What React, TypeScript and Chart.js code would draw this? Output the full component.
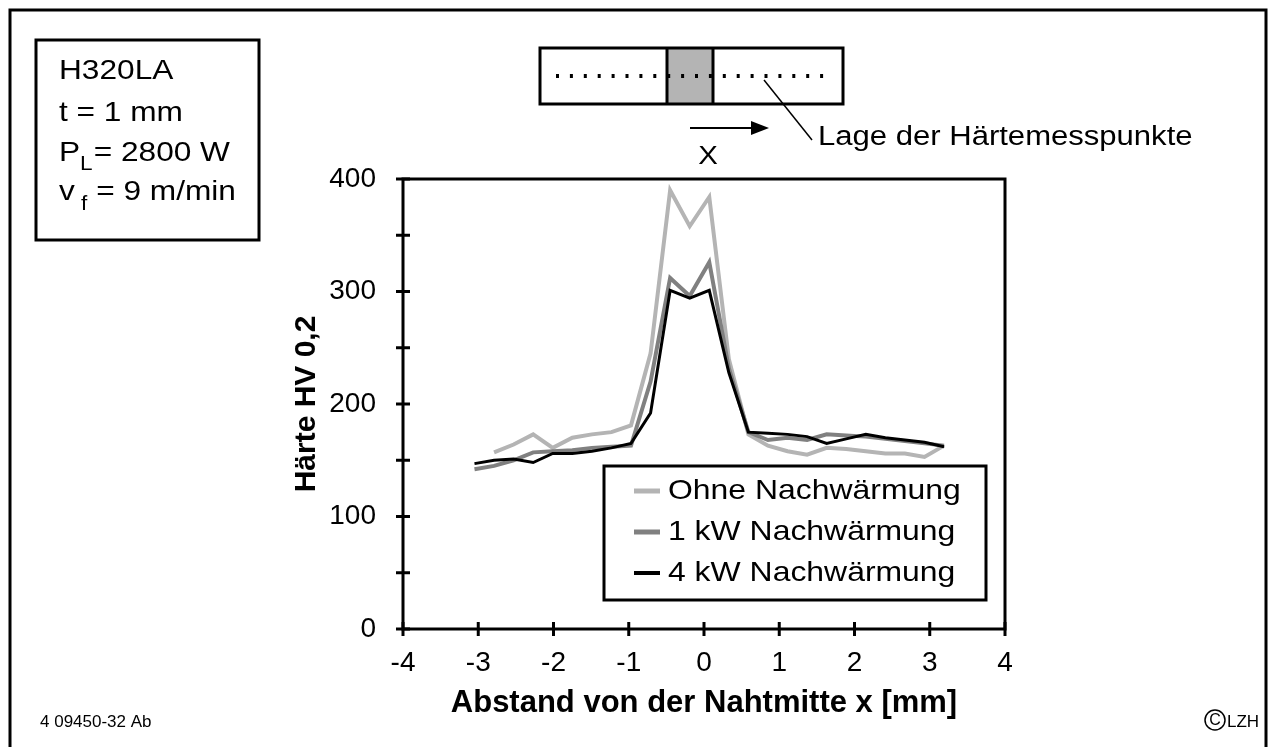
import React, { useEffect, useRef } from 'react';
import { Chart, registerables } from 'chart.js';

Chart.register(...registerables);
Chart.defaults.font.family = "'Liberation Sans', Arial, sans-serif";

// Measurement positions (mm from weld centre)
const xPositions = [
  -3.05, -2.79, -2.53, -2.27, -2.01, -1.75, -1.49, -1.23, -0.97, -0.71, -0.45, -0.19, 0.07,
  0.33, 0.59, 0.85, 1.11, 1.37, 1.63, 1.89, 2.15, 2.41, 2.67, 2.93, 3.19,
];

// Hardness HV 0,2
const ohneNachwaermung = [
  null, 157, 164, 173, 161, 170, 173, 175, 181, 245, 390, 358, 384,
  240, 173, 163, 158, 155, 161, 160, 158, 156, 156, 153, 163,
];
const kw1Nachwaermung = [
  142, 145, 150, 157, 158, 159, 161, 162, 163, 220, 312, 296, 326,
  232, 175, 168, 170, 168, 173, 172, 171, 169, 167, 165, 163,
];
const kw4Nachwaermung = [
  147, 150, 151, 148, 156, 156, 158, 161, 165, 192, 301, 294, 301,
  228, 175, 174, 173, 171, 165, 169, 173, 170, 168, 166, 162,
];

const seriesLabels = ['Ohne Nachwärmung', '1 kW Nachwärmung', '4 kW Nachwärmung'];
const seriesColors = ['#b4b4b4', '#808080', '#000000'];
const seriesWidths = [4, 4, 3];

const xAxisTitle = 'Abstand von der Nahtmitte x [mm]';
const yAxisTitle = 'Härte HV 0,2';
const schematicLabel = 'Lage der Härtemesspunkte';
const figureId = '4 09450-32 Ab';
const copyrightLabel = 'LZH';

const SX = 1.13; // horizontal stretch of the reference lettering

function toPoints(ys: (number | null)[]) {
  const pts: { x: number; y: number }[] = [];
  ys.forEach((y, i) => {
    if (y !== null) pts.push({ x: xPositions[i], y });
  });
  return pts;
}

function text(
  ctx: CanvasRenderingContext2D,
  s: string,
  x: number,
  y: number,
  font: string,
  align: CanvasTextAlign = 'left',
  baseline: CanvasTextBaseline = 'alphabetic',
  sx = SX
) {
  ctx.save();
  ctx.translate(x, y);
  ctx.scale(sx, 1);
  ctx.font = font;
  ctx.textAlign = align;
  ctx.textBaseline = baseline;
  ctx.fillStyle = '#000';
  ctx.fillText(s, 0, 0);
  const w = ctx.measureText(s).width * sx;
  ctx.restore();
  return w;
}

function line(ctx: CanvasRenderingContext2D, x1: number, y1: number, x2: number, y2: number) {
  ctx.beginPath();
  ctx.moveTo(x1, y1);
  ctx.lineTo(x2, y2);
  ctx.stroke();
}

const FONT = "'Liberation Sans', Arial, sans-serif";

const decorPlugin = {
  id: 'decor',
  afterDraw(chart: any) {
    const { ctx, chartArea: ca, scales } = chart;
    ctx.save();
    ctx.strokeStyle = '#000';
    ctx.fillStyle = '#000';
    ctx.lineWidth = 3;
    ctx.lineCap = 'butt';

    // plot frame
    ctx.strokeRect(ca.left, ca.top, ca.right - ca.left, ca.bottom - ca.top);

    // crossing tick marks
    ctx.lineWidth = 3;
    scales.y.ticks.forEach((t: any) => {
      const py = scales.y.getPixelForValue(t.value);
      line(ctx, ca.left - 7, py, ca.left + 7, py);
    });
    scales.x.ticks.forEach((t: any) => {
      const px = scales.x.getPixelForValue(t.value);
      line(ctx, px, ca.bottom - 7, px, ca.bottom + 7);
    });

    // legend
    const lg = { l: 604, t: 466, r: 986, b: 600 };
    ctx.lineWidth = 3;
    ctx.strokeRect(lg.l, lg.t, lg.r - lg.l, lg.b - lg.t);
    const rowY = [491, 532, 573];
    seriesLabels.forEach((lab, i) => {
      ctx.strokeStyle = seriesColors[i];
      ctx.lineWidth = seriesWidths[i] + 1;
      line(ctx, 634, rowY[i], 660, rowY[i]);
      text(ctx, lab, 668, rowY[i], `28px ${FONT}`, 'left', 'middle', 1.14);
    });
    ctx.strokeStyle = '#000';

    // info box
    ctx.lineWidth = 3;
    ctx.strokeRect(36, 40, 223, 200);
    const f28 = `28px ${FONT}`;
    const f20 = `20px ${FONT}`;
    text(ctx, 'H320LA', 59, 79, f28);
    text(ctx, 't = 1 mm', 59, 121, f28);
    let w = text(ctx, 'P', 59, 161, f28);
    const w2 = text(ctx, 'L', 59 + w, 170, f20);
    text(ctx, '= 2800 W', 59 + w + w2 + 1, 161, f28);
    w = text(ctx, 'v', 59, 200, f28);
    const w3 = text(ctx, ' f', 59 + w, 210, f20);
    text(ctx, ' = 9 m/min', 59 + w + w3, 200, f28);

    // schematic of the weld
    ctx.fillStyle = '#b4b4b4';
    ctx.fillRect(667, 48, 46, 56);
    ctx.lineWidth = 3;
    ctx.strokeRect(540, 48, 303, 56);
    line(ctx, 667, 48, 667, 104);
    line(ctx, 713, 48, 713, 104);
    ctx.fillStyle = '#000';
    for (let i = 0; i < 20; i++) {
      ctx.fillRect(556 + i * 13.9, 74, 3, 4);
    }
    // arrow
    ctx.lineWidth = 2;
    line(ctx, 690, 128, 752, 128);
    ctx.beginPath();
    ctx.moveTo(769, 128);
    ctx.lineTo(751, 121);
    ctx.lineTo(751, 135);
    ctx.closePath();
    ctx.fill();
    text(ctx, 'X', 708, 157, `26px ${FONT}`, 'center', 'middle');
    // leader
    ctx.lineWidth = 1.5;
    line(ctx, 764, 80, 812, 140);
    text(ctx, schematicLabel, 818, 138, `27px ${FONT}`, 'left', 'middle', 1.15);

    // footer
    text(ctx, figureId, 40, 727, `17px ${FONT}`, 'left', 'alphabetic', 1.0);
    ctx.lineWidth = 1.5;
    ctx.beginPath();
    ctx.arc(1215, 720, 10, 0, Math.PI * 2);
    ctx.stroke();
    text(ctx, 'C', 1215, 721, `16px ${FONT}`, 'center', 'middle', 1.0);
    text(ctx, copyrightLabel, 1227, 727, `17px ${FONT}`, 'left', 'alphabetic', 1.0);

    // outer border
    ctx.lineWidth = 3;
    ctx.strokeRect(10, 10, 1256, 800);

    ctx.restore();
  },
};

export default function App() {
  const canvasRef = useRef<HTMLCanvasElement | null>(null);

  useEffect(() => {
    const canvas = canvasRef.current;
    if (!canvas) return;
    const series = [ohneNachwaermung, kw1Nachwaermung, kw4Nachwaermung];
    const chart = new Chart(canvas, {
      type: 'scatter',
      data: {
        datasets: series.map((ys, i) => ({
          label: seriesLabels[i],
          data: toPoints(ys),
          showLine: true,
          borderColor: seriesColors[i],
          backgroundColor: seriesColors[i],
          borderWidth: seriesWidths[i],
          pointRadius: 0,
          fill: false,
          tension: 0,
          order: 3 - i,
        })),
      },
      options: {
        animation: false,
        responsive: false,
        devicePixelRatio: 1,
        layout: { padding: { left: 288, right: 270, top: 179, bottom: 0 } },
        plugins: { legend: { display: false }, tooltip: { enabled: false } },
        scales: {
          x: {
            type: 'linear',
            min: -4,
            max: 4,
            ticks: {
              stepSize: 1,
              color: '#000',
              font: { size: 28 },
              padding: 17,
              maxRotation: 0,
              autoSkip: false,
            },
            grid: { display: false, drawTicks: false },
            border: { display: false },
            title: {
              display: true,
              text: xAxisTitle,
              color: '#000',
              font: { size: 31, weight: 'bold' },
              padding: { top: 0, bottom: 25 },
            },
            afterFit: (s: any) => {
              s.height = 118;
            },
          },
          y: {
            min: 0,
            max: 400,
            ticks: {
              stepSize: 50,
              color: '#000',
              font: { size: 28 },
              padding: 27,
              callback: (v: any) => (Number(v) % 100 === 0 ? String(v) : ''),
            },
            grid: { display: false, drawTicks: false },
            border: { display: false },
            title: {
              display: true,
              text: yAxisTitle,
              color: '#000',
              font: { size: 30, weight: 'bold' },
              padding: { top: 1, bottom: 0 },
            },
            afterFit: (s: any) => {
              s.width = 115;
            },
          },
        },
      },
      plugins: [decorPlugin],
    } as any);
    return () => chart.destroy();
  }, []);

  return (
    <div style={{ position: 'absolute', left: 0, top: 0, width: 1275, height: 747, background: '#fff' }}>
      <canvas ref={canvasRef} width={1275} height={747} style={{ width: 1275, height: 747, display: 'block' }} />
    </div>
  );
}
